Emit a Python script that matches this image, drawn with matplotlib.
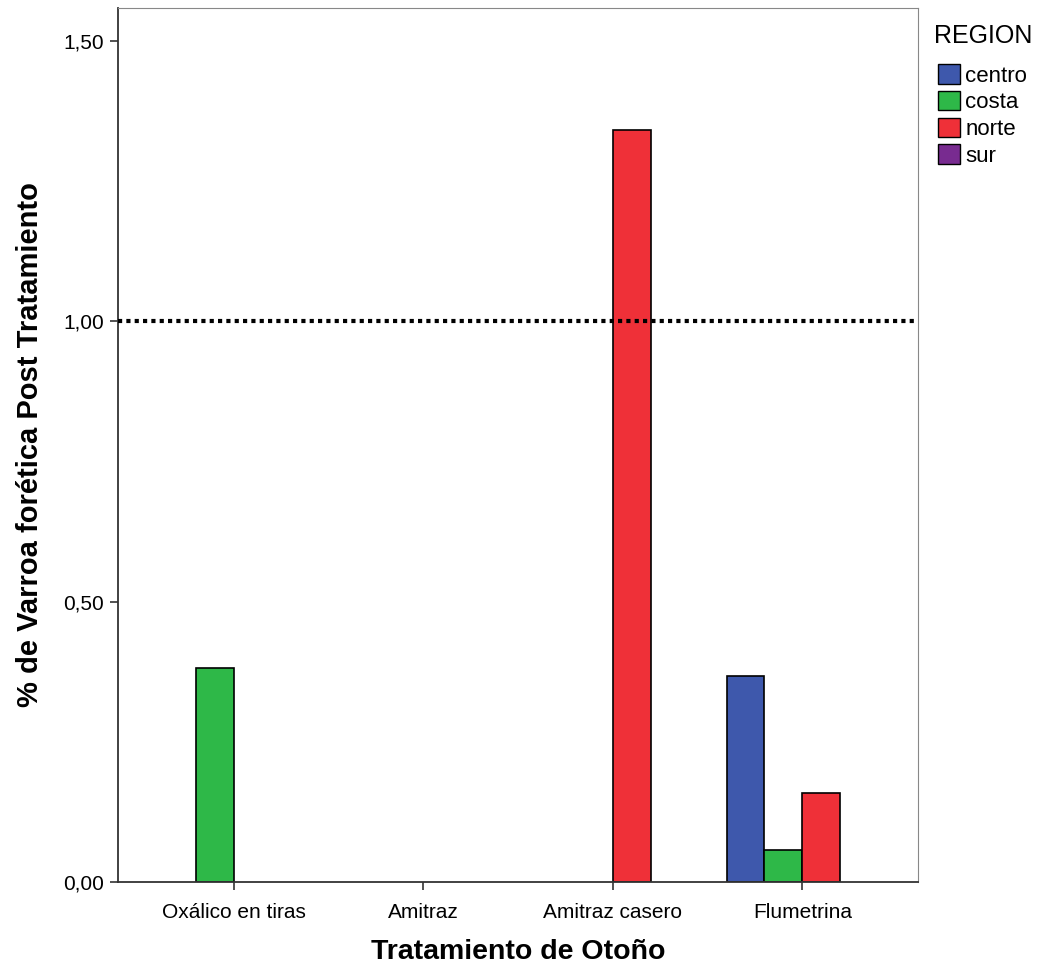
import numpy as np
import matplotlib
matplotlib.use("Agg")
import matplotlib.pyplot as plt
from matplotlib.patches import Patch

plt.rcParams['font.family'] = ['Liberation Sans', 'DejaVu Sans']

tratamientos = ['Oxálico en tiras', 'Amitraz', 'Amitraz casero', 'Flumetrina']
regiones = ['centro', 'costa', 'norte', 'sur']
colores = ['#3E58AC', '#2EB848', '#EF3038', '#782B90']

# % varroa per region, nan = no data
centro = [np.nan, np.nan, np.nan, 0.368]
costa = [0.381, np.nan, np.nan, 0.057]
norte = [np.nan, np.nan, 1.342, 0.158]
sur = [np.nan, np.nan, np.nan, np.nan]
valores = [centro, costa, norte, sur]

fig = plt.figure(figsize=(10.37, 9.71), dpi=100)
ax = fig.add_axes([118 / 1037, 1 - 882 / 971, 800 / 1037, 874 / 971])

ancho = 0.2
x = np.arange(len(tratamientos))
for i, serie in enumerate(valores):
    offs = (i - 1.5) * ancho
    for j, v in enumerate(serie):
        if np.isnan(v):
            continue
        ax.bar(x[j] + offs, v, width=ancho, color=colores[i],
               edgecolor='black', linewidth=1.2, zorder=2)

ax.axhline(1.0, color='black', linestyle=(0, (1, 1)), linewidth=3, zorder=3)

ax.set_xlim(-0.61, 3.61)
ax.set_ylim(0, 1.559)
ax.set_xticks(x)
ax.set_xticklabels(tratamientos, fontsize=15)
ax.set_yticks([0, 0.5, 1.0, 1.5])
ax.set_yticklabels(['0,00', '0,50', '1,00', '1,50'], fontsize=15)
ax.tick_params(axis='both', direction='out', length=6, width=1.2, color='#333333', pad=4)
ax.tick_params(axis='x', pad=9)

for s in ['top', 'right']:
    ax.spines[s].set_color('#888888')
for s in ['left', 'bottom']:
    ax.spines[s].set_color('#333333')
    ax.spines[s].set_linewidth(1.3)

ax.set_xlabel('Tratamiento de Otoño', fontsize=20.5, fontweight='bold', labelpad=12)
ax.set_ylabel('% de Varroa forética Post Tratamiento', fontsize=21, fontweight='bold', labelpad=14)

# legend title as separate text so the gap matches
fig.text(934 / 1037, 1 - 36 / 971, 'REGION', fontsize=18, va='center', ha='left')
handles = [Patch(facecolor=c, edgecolor='black', label=r) for c, r in zip(colores, regiones)]
leg = fig.legend(handles=handles, loc='upper left',
                 bbox_to_anchor=(934 / 1037, 1 - 60 / 971), frameon=False,
                 fontsize=16, handlelength=0.95, handleheight=0.95,
                 handletextpad=0.25, labelspacing=0.2, borderaxespad=0, borderpad=0.2)

fig.savefig('out.png', dpi=100)
